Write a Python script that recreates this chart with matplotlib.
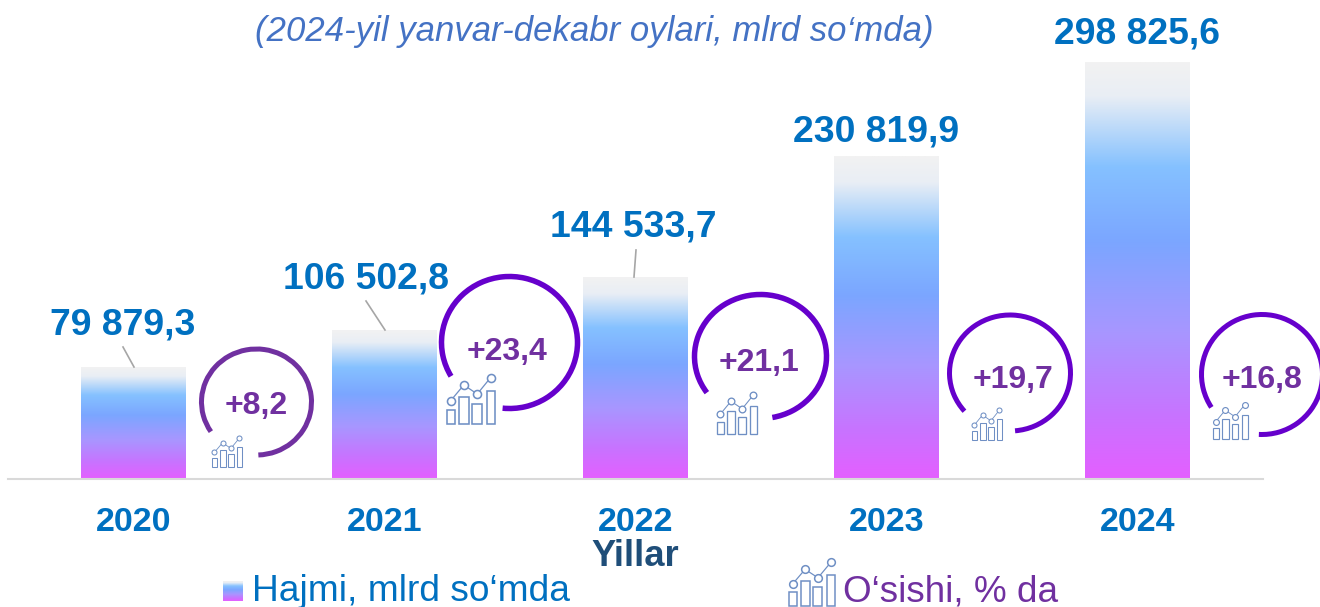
#!/usr/bin/env python3
"""Yearly volume bars with growth rings and small chart icons."""

import matplotlib

matplotlib.use("Agg")
import matplotlib.pyplot as plt
import numpy as np
from matplotlib.colors import LinearSegmentedColormap
from matplotlib.patches import Arc, Rectangle

YEARS = ["2020", "2021", "2022", "2023", "2024"]
VOLUME = [79879.3, 106502.8, 144533.7, 230819.9, 298825.6]
VOLUME_LABELS = ["79 879,3", "106 502,8", "144 533,7", "230 819,9", "298 825,6"]
GROWTH_LABELS = ["+8,2", "+23,4", "+21,1", "+19,7", "+16,8"]

TITLE = "(2024-yil yanvar-dekabr oylari, mlrd so\u2018mda)"
XLABEL = "Yillar"
LEGEND_BAR = "Hajmi, mlrd so\u2018mda"
LEGEND_ICON = "O\u2018sishi, % da"

W, H = 1320, 607
BASE_Y = 479
PX_PER_UNIT = 417 / 298825.6

BLUE = "#0070c0"
PURPLE = "#7030a0"
VIOLET = "#6600cc"
ICON = "#6f8fc4"

# centre x, centre y, width, height, start, end, colour, line width (px)
RINGS = [
    (256.5, 402, 110, 106, 272, 573, PURPLE, 5),
    (509.5, 342.5, 136, 132, 264, 570, VIOLET, 5.5),
    (760.5, 356.5, 132, 124, 281, 574, VIOLET, 5.5),
    (1010, 373, 121, 116, 275, 580, VIOLET, 5),
    (1262, 374.5, 121, 120, 267, 573, VIOLET, 5),
]
GROWTH_POS = [(256.5, 406), (507, 352), (759.5, 363), (1013, 380), (1262, 380)]
LABEL_POS = [(123, 325), (366, 279), (633, 227), (876, 132), (1137, 34)]
LEADERS = [((123, 347), (134, 367)), ((366, 301), (385, 330)), ((636, 250), (634, 277))]
# left, top, right, bottom
ICONS = [
    (212, 436, 242, 467),
    (447, 374, 495, 424),
    (717, 392, 757, 434),
    (972, 408, 1002, 440),
    (1213, 402, 1248, 439),
    (789, 559, 835, 606),
]

plt.rcParams["font.family"] = ["Liberation Sans", "DejaVu Sans"]

bar_cmap = LinearSegmentedColormap.from_list(
    "bar",
    [
        (0.0, "#f2f2f2"),
        (0.08, "#e9eef5"),
        (0.25, "#85c1ff"),
        (0.43, "#7ba6ff"),
        (0.65, "#a896ff"),
        (0.85, "#c873ff"),
        (1.0, "#e45fff"),
    ],
)
ramp = np.linspace(0, 1, 256).reshape(-1, 1)


def py(y):
    return H - y


def draw_icon(ax, left, top, right, bottom):
    w = right - left
    h = bottom - top
    lw = max(0.75, w / 42)
    for x0, x1, t in [(0, 0.17, 0.71), (0.26, 0.45, 0.46), (0.53, 0.72, 0.59), (0.83, 1, 0.34)]:
        ax.add_patch(
            Rectangle((left + x0 * w, py(bottom)), (x1 - x0) * w, (1 - t) * h, fill=False, ec=ICON, lw=lw)
        )
    xs = [left + f * w for f in (0.08, 0.35, 0.63, 0.91)]
    ys = [py(top + f * h) for f in (0.53, 0.22, 0.40, 0.07)]
    ax.plot(xs, ys, color=ICON, lw=lw * 0.8, marker="o", ms=w / 8.3, mfc="white", mec=ICON, mew=lw)


fig = plt.figure(figsize=(W / 100, H / 100), dpi=100, facecolor="white")

ax = fig.add_axes([8 / W, 1 - BASE_Y / H, 1255 / W, BASE_Y / H])
ax.set_xlim(-0.5, 4.5)
ax.set_ylim(0, BASE_Y / PX_PER_UNIT)
bars = ax.bar(range(len(YEARS)), VOLUME, width=104.5 / 251, color="none")
for bar in bars:
    ax.imshow(
        ramp,
        cmap=bar_cmap,
        aspect="auto",
        interpolation="bilinear",
        extent=(bar.get_x(), bar.get_x() + bar.get_width(), 0, bar.get_height()),
        zorder=2,
    )
ax.set_xlim(-0.5, 4.5)
ax.set_ylim(0, BASE_Y / PX_PER_UNIT)
ax.set_xticks(range(len(YEARS)), YEARS, fontsize=24.5, fontweight="bold", color=BLUE)
ax.set_yticks([])
ax.tick_params(axis="x", length=0, pad=20.3)
for side in ["top", "left", "right"]:
    ax.spines[side].set_visible(False)
ax.spines["bottom"].set_color("#d9d9d9")
ax.spines["bottom"].set_linewidth(1.5)
ax.patch.set_alpha(0)

over = fig.add_axes([0, 0, 1, 1])
over.set_xlim(0, W)
over.set_ylim(0, H)
over.axis("off")
over.patch.set_alpha(0)

for cx, cy, w, h, t1, t2, color, lw in RINGS:
    over.add_patch(Arc((cx, py(cy)), w, h, theta1=t1, theta2=t2, color=color, lw=lw * 0.72, capstyle="butt"))
for (x0, y0), (x1, y1) in LEADERS:
    over.plot([x0, x1], [py(y0), py(y1)], color="#a6a6a6", lw=1.2)
for box in ICONS:
    draw_icon(over, *box)

for (x, y), text in zip(LABEL_POS, VOLUME_LABELS):
    over.text(x, py(y), text, ha="center", va="center", fontsize=26.9, fontweight="bold", color=BLUE)
for (x, y), text in zip(GROWTH_POS, GROWTH_LABELS):
    over.text(x, py(y), text, ha="center", va="center", fontsize=23, fontweight="bold", color=PURPLE)

over.text(594, py(31), TITLE, ha="center", va="center", fontsize=25, style="italic", color="#4472c4")
over.text(635, py(556), XLABEL, ha="center", va="center", fontsize=26.2, fontweight="bold", color="#1f4e79")

# legend swatch uses the same ramp as the bars
over.imshow(ramp, cmap=bar_cmap, aspect="auto", extent=(223, 243, py(601), py(581)), zorder=2)
over.set_xlim(0, W)
over.set_ylim(0, H)
over.text(252, py(601), LEGEND_BAR, ha="left", va="baseline", fontsize=26.7, color=BLUE)
over.text(843, py(601), LEGEND_ICON, ha="left", va="baseline", fontsize=26.6, color=PURPLE)

fig.savefig("out.png", dpi=100, facecolor="white")
plt.close(fig)
